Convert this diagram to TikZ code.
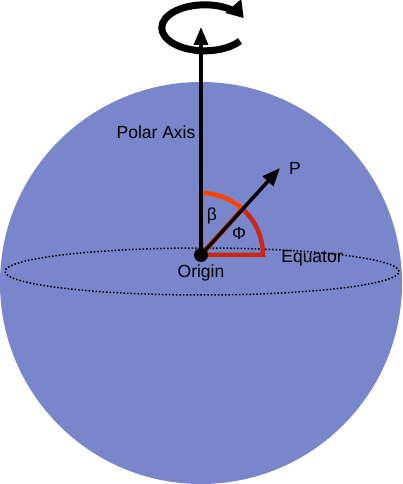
\documentclass[tikz,border=0pt]{standalone}
\usepackage{fontspec}
\setmainfont{Liberation Sans}
\usetikzlibrary{arrows.meta,positioning}
\definecolor{spherefill}{RGB}{121,134,203}
\definecolor{betared}{RGB}{255,64,0}
\definecolor{phired}{RGB}{201,40,22}

\begin{document}
\begin{tikzpicture}[x=1pt,y=1pt,
  lbl/.style={font=\fontsize{17.5}{20}\selectfont, inner sep=0pt},
  bigarrow/.style={line width=3.5pt,-{Triangle[length=18pt,width=14pt]}},
  wedge/.style={line width=4.5pt, line join=miter}]
\useasboundingbox (0,0) rectangle (402,484);
% sphere and equator
\fill[spherefill] (201,201) circle[radius=201];
\draw[line width=1.5pt, dotted] (202,212.5) ellipse[x radius=197, y radius=23.5];
\coordinate (O) at (201,229);
\coordinate (N) at (201,457);
\coordinate (P) at (280,316);
% angles
\draw[wedge, phired] (O) -- ++(0:62) arc[start angle=0, end angle=48, radius=62] -- cycle;
\draw[wedge, betared] (O) -- ++(90:62) arc[start angle=90, end angle=48, radius=62] -- cycle;
\draw[bigarrow] (O) -- (P);
\draw[bigarrow] (O) -- (N);
\fill (O) circle[radius=7];
% rotation
\draw[line width=7pt, -{Triangle[length=16pt,width=20pt]}] (240,443) arc[start angle=-35, end angle=-335, x radius=43, y radius=23];
\node[lbl] (polar) at (156,352) {Polar Axis};
\node[lbl] (plabel) at (295,316) {P};
\node[lbl] (beta) at (212,268) {β};
\node[lbl] (phi) at (239,251) {Φ};
\node[lbl] (origin) at (201,211) {Origin};
\node[lbl] (equator) at (312,226) {Equator};
\end{tikzpicture}
\end{document}
